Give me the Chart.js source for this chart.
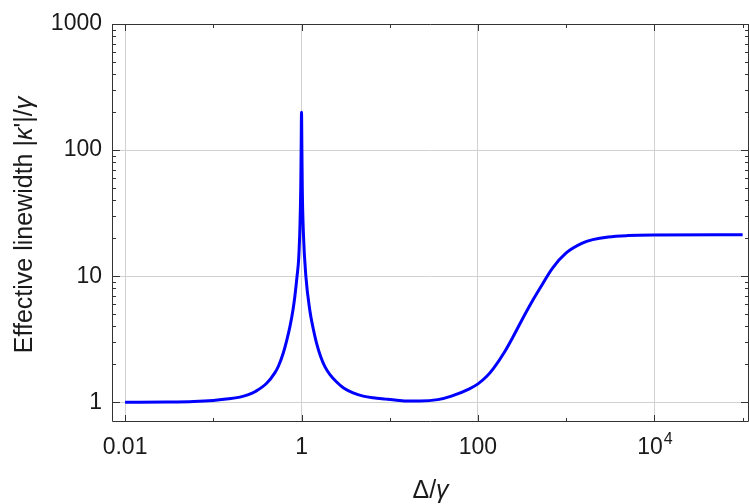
<!DOCTYPE html>
<html>
<head>
<meta charset="utf-8">
<script src="https://cdn.jsdelivr.net/npm/chart.js@4.4.1/dist/chart.umd.min.js"></script>
<style>
  html, body { margin: 0; padding: 0; background: #fff; }
  #wrap { width: 749px; height: 504px; }
</style>
</head>
<body>
<div id="wrap"><canvas id="chart" width="749" height="504"></canvas></div>
<script>
// detuning Δ/γ and effective linewidth |κ'|/γ
const detuning = [
  0.01, 0.03, 0.06, 0.1, 0.15, 0.2, 0.25, 0.3, 0.4, 0.5,
  0.55, 0.62, 0.68, 0.74, 0.8, 0.84, 0.89, 0.93, 0.96, 0.98,
  0.99, 1.0, 1.01, 1.02, 1.05, 1.12, 1.24, 1.35, 1.48, 1.65,
  1.84, 2.1, 2.5, 3.0, 3.84, 5.0, 6.5, 9.0, 12, 16,
  22, 35, 50, 80, 100, 125, 150, 200, 250, 300,
  400, 500, 700, 1000, 1500, 2000, 3000, 5000, 10000, 100000,
];
const linewidth = [
  1.0, 1.005, 1.015, 1.035, 1.065, 1.1, 1.15, 1.22, 1.41, 1.72,
  1.95, 2.45, 3.1, 4.0, 5.4, 6.9, 10, 14, 25, 50,
  100, 200, 100, 50, 22, 10, 5.4, 3.9, 2.95, 2.3,
  1.92, 1.66, 1.45, 1.30, 1.19, 1.12, 1.085, 1.06, 1.04, 1.025,
  1.025, 1.05, 1.12, 1.28, 1.4, 1.6, 1.86, 2.51, 3.31, 4.22,
  6.1, 7.94, 11.6, 15.3, 18.2, 19.5, 20.5, 21.0, 21.2, 21.3,
];

const xMajorTicks = [0.01, 1, 100, 10000];
const xMajorLabels = ['0.01', '1', '100', '10^4'];
const xMinorTicks = [0.1, 10, 1000, 100000];
const yMajorTicks = [1, 10, 100, 1000];
const yMinorTicks = [2, 3, 4, 5, 6, 7, 8, 9, 20, 30, 40, 50, 60, 70, 80, 90,
                     200, 300, 400, 500, 600, 700, 800, 900];

const FONT = "'Liberation Sans', Arial, sans-serif";
const TEXT = '#1a1a1a';

// frame with inward ticks on all four sides, plus x labels and axis titles
const framePlugin = {
  id: 'frame',
  afterDraw(chart) {
    const { ctx, chartArea: a, scales: { x, y } } = chart;
    ctx.save();
    ctx.strokeStyle = '#333';
    ctx.lineWidth = 1;
    ctx.beginPath();
    ctx.rect(a.left + 0.5, a.top + 0.5, a.right - a.left - 1, a.bottom - a.top - 1);

    const xTick = (v, len) => {
      const px = Math.round(x.getPixelForValue(v)) + 0.5;
      ctx.moveTo(px, a.bottom); ctx.lineTo(px, a.bottom - len);
      ctx.moveTo(px, a.top); ctx.lineTo(px, a.top + len);
    };
    const yTick = (v, len) => {
      const py = Math.round(y.getPixelForValue(v)) + 0.5;
      ctx.moveTo(a.left, py); ctx.lineTo(a.left + len, py);
      ctx.moveTo(a.right, py); ctx.lineTo(a.right - len, py);
    };
    xMajorTicks.forEach(v => xTick(v, 7));
    xMinorTicks.forEach(v => xTick(v, 4));
    yMajorTicks.forEach(v => yTick(v, 8));
    yMinorTicks.forEach(v => yTick(v, 4));
    ctx.stroke();

    // x tick labels
    ctx.fillStyle = TEXT;
    ctx.textBaseline = 'alphabetic';
    xMajorTicks.forEach((v, i) => {
      const px = x.getPixelForValue(v);
      const label = xMajorLabels[i];
      if (label.includes('^')) {
        const [base, exp] = label.split('^');
        ctx.font = `23px ${FONT}`;
        const wb = ctx.measureText(base).width;
        ctx.font = `16px ${FONT}`;
        const we = ctx.measureText(exp).width;
        const x0 = px - (wb + we) / 2;
        ctx.textAlign = 'left';
        ctx.font = `23px ${FONT}`;
        ctx.fillText(base, x0, 454);
        ctx.font = `16px ${FONT}`;
        ctx.fillText(exp, x0 + wb + 1, 444);
      } else {
        ctx.font = `23px ${FONT}`;
        ctx.textAlign = 'center';
        ctx.fillText(label, px, 454);
      }
    });

    // mixed upright / italic title pieces
    const drawParts = (parts, cx, baseY) => {
      let total = 0;
      parts.forEach(p => {
        ctx.font = `${p.it ? 'italic ' : ''}25px ${FONT}`;
        p.w = ctx.measureText(p.t).width;
        total += p.w;
      });
      let cur = cx - total / 2;
      ctx.textAlign = 'left';
      parts.forEach(p => {
        ctx.font = `${p.it ? 'italic ' : ''}25px ${FONT}`;
        ctx.fillText(p.t, cur, baseY);
        cur += p.w;
      });
    };

    drawParts([{ t: 'Δ/' }, { t: 'γ', it: true }], (a.left + a.right) / 2, 498);

    ctx.save();
    ctx.translate(32, 225);
    ctx.rotate(-Math.PI / 2);
    drawParts([
      { t: 'Effective linewidth |' },
      { t: 'κ', it: true },
      { t: '\'|/' },
      { t: 'γ', it: true },
    ], 0, 0);
    ctx.restore();

    ctx.restore();
  },
};

new Chart(document.getElementById('chart'), {
  type: 'line',
  data: {
    datasets: [{
      data: detuning.map((d, i) => ({ x: d, y: linewidth[i] })),
      borderColor: '#0000ff',
      borderWidth: 3,
      pointRadius: 0,
      fill: false,
      cubicInterpolationMode: 'monotone',
    }],
  },
  options: {
    responsive: false,
    animation: false,
    devicePixelRatio: 1,
    layout: { padding: { top: 24, right: 0, left: 0, bottom: 0 } },
    plugins: { legend: { display: false }, tooltip: { enabled: false } },
    scales: {
      x: {
        type: 'logarithmic',
        min: 0.00711,
        max: 118000,
        afterBuildTicks: (scale) => { scale.ticks = xMajorTicks.map(v => ({ value: v })); },
        afterFit: (scale) => { scale.height = 82; },
        ticks: { display: false },
        grid: { color: '#d2d2d2', lineWidth: 1, drawTicks: false },
        border: { display: false },
      },
      y: {
        type: 'logarithmic',
        min: 0.698,
        max: 1000,
        afterBuildTicks: (scale) => { scale.ticks = yMajorTicks.map(v => ({ value: v })); },
        afterFit: (scale) => { scale.width = 112; },
        ticks: {
          color: TEXT,
          padding: 10,
          font: { family: FONT, size: 23 },
          callback: (v) => String(v),
        },
        grid: { color: '#d2d2d2', lineWidth: 1, drawTicks: false },
        border: { display: false },
      },
    },
  },
  plugins: [framePlugin],
});
</script>
</body>
</html>
